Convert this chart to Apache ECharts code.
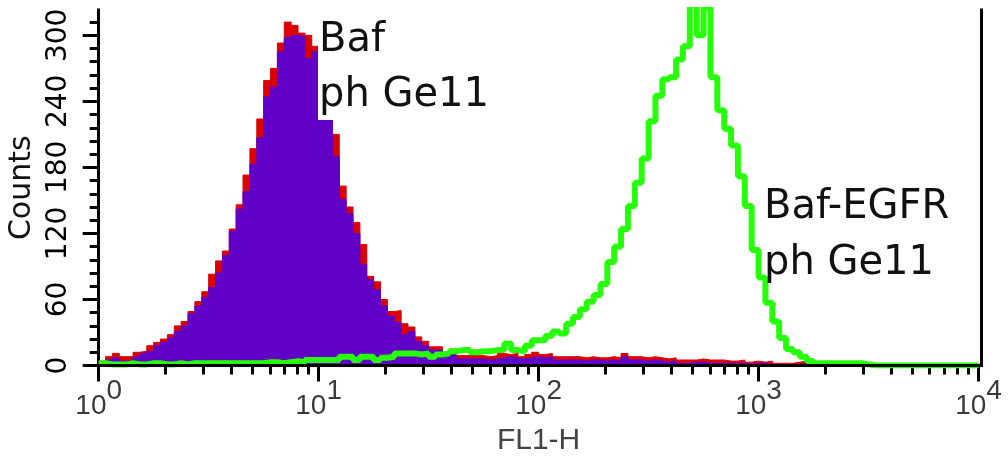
<!DOCTYPE html>
<html>
<head>
<meta charset="utf-8">
<script src="https://cdn.jsdelivr.net/npm/echarts@6/dist/echarts.min.js"></script>
<style>
html,body{margin:0;padding:0;background:#fff;}
#chart{width:1008px;height:458px;}
</style>
</head>
<body>
<div id="chart"></div>
<script>
// ---- data (counts per channel bin, 32 bins per decade, 10^0 .. 10^4) ----
const binsPerDecade = 32;
const decades = 4;

const bafRed = [
  4, 8, 11, 8, 8, 12, 13, 18, 21, 24,
  28, 36, 40, 49, 58, 67, 83, 95, 104, 124,
  146, 173, 197, 224, 259, 270, 293, 312, 309, 302,
  300, 290, 280, 235, 210, 163, 144, 130, 110, 81,
  76, 60, 49, 50, 38, 35, 26, 22, 17, 17,
  12, 15, 9, 9, 9, 9, 8, 9, 11, 10,
  11, 8, 10, 12, 10, 11, 8, 8, 8, 8,
  7, 8, 7, 7, 8, 7, 11, 8, 8, 7,
  8, 7, 6, 7, 5, 5, 5, 6, 5, 5,
  5, 4, 4, 5, 3, 4, 3, 4, 2, 2,
  2, 3, 4, 2, 0, 0, 0, 0, 0, 0,
  0, 0, 0, 0, 0, 0, 0, 0, 0, 0,
  0, 0, 0, 0, 0, 0, 0, 0
];

const bafPurple = [
  3, 5, 7, 4, 5, 8, 11, 13, 18, 21,
  25, 31, 36, 47, 54, 62, 71, 84, 100, 122,
  142, 158, 183, 207, 244, 253, 285, 298, 300, 299,
  279, 285, 265, 225, 190, 151, 138, 120, 92, 78,
  69, 54, 45, 39, 28, 31, 22, 18, 14, 14,
  9, 10, 6, 6, 6, 6, 5, 6, 7, 8,
  7, 6, 7, 8, 7, 8, 5, 5, 5, 5,
  4, 5, 5, 4, 5, 4, 8, 5, 5, 4,
  5, 4, 3, 4, 2, 2, 3, 3, 2, 2,
  2, 2, 2, 2, 1, 2, 2, 1, 0, 0,
  0, 1, 2, 0, 0, 0, 0, 0, 0, 0,
  0, 0, 0, 0, 0, 0, 0, 0, 0, 0,
  0, 0, 0, 0, 0, 0, 0, 0
];

const bafEgfrGreen = [
  2, 1, 1, 1, 2, 1, 1, 2, 2, 1,
  1, 2, 1, 2, 2, 2, 2, 2, 2, 2,
  2, 2, 2, 2, 3, 3, 2, 3, 4, 3,
  5, 5, 5, 5, 5, 8, 8, 5, 8, 8,
  5, 7, 8, 11, 11, 11, 10, 11, 8, 10,
  11, 13, 14, 14, 12, 13, 13, 14, 14, 20,
  14, 13, 18, 23, 23, 27, 31, 29, 38, 44,
  51, 58, 64, 74, 94, 108, 124, 145, 166, 188,
  222, 245, 260, 262, 278, 290, 330, 300, 325, 262,
  232, 215, 200, 172, 145, 105, 80, 57, 40, 25,
  15, 12, 8, 4, 2, 2, 2, 2, 2, 2,
  2, 1, 0, 0, 0, 0, 0, 0, 0, 0,
  0, 0, 0, 0, 0, 0, 0, 0
];

const yTickLabels = [0, 60, 120, 180, 240, 300];
const yMinorTicks = [12, 24, 36, 48, 72, 84, 96, 108, 132, 144, 156, 168, 192, 204, 216, 228, 252, 264, 276, 288, 312];
const xMinorMultipliers = [2, 3, 4, 5, 6, 7, 8, 9];
const yMax = 323;

// ---- build series data from the arrays ----
const nBins = binsPerDecade * decades;
const binEdges = [];
for (let i = 0; i <= nBins; i++) binEdges.push(Math.pow(10, i / binsPerDecade));
function toSteps(counts) {
  const out = counts.map((c, i) => [binEdges[i], c]);
  out.push([binEdges[nBins], counts[counts.length - 1]]);
  return out;
}
const xMinorTickPos = [];
for (let d = 0; d < decades; d++) {
  xMinorMultipliers.forEach(m => xMinorTickPos.push(d + Math.log10(m)));
}

const chart = echarts.init(document.getElementById('chart'), null, {renderer: 'canvas'});
const black = '#000';
const frameLine = {show: true, lineStyle: {color: black, width: 3, cap: 'square'}};
const option = {
  animation: false,
  backgroundColor: '#fff',
  grid: {left: 98.7, right: 29.5, top: 10, bottom: 92.5, containLabel: false, outerBoundsMode: 'none'},
  xAxis: [
    {
      type: 'log', logBase: 10, min: 1, max: 10000, position: 'bottom', offset: 3,
      axisLine: frameLine,
      axisTick: {show: true, length: 16, lineStyle: {color: black, width: 3}},
      minorTick: {show: false},
      splitLine: {show: false},
      axisLabel: {
        show: true, margin: 9,
        formatter: v => '{b|10}{s|' + Math.round(Math.log10(v)) + '}',
        rich: {
          b: {fontSize: 28, fontFamily: 'Liberation Sans', color: '#3a3a3a'},
          s: {fontSize: 28, fontFamily: 'Liberation Sans', color: '#3a3a3a', padding: [0, 0, 30, 0]}
        }
      },
      name: 'FL1-H', nameLocation: 'middle', nameGap: 53,
      nameTextStyle: {fontSize: 30, fontFamily: 'Liberation Sans', color: '#444'}
    },
    {
      type: 'value', min: 0, max: decades, position: 'bottom', offset: 3,
      axisLine: {show: false},
      axisTick: {show: true, customValues: xMinorTickPos, length: 9, lineStyle: {color: black, width: 3}},
      axisLabel: {show: false},
      splitLine: {show: false}
    },
    {
      type: 'value', min: 0, max: 1, position: 'top', z: 10,
      axisLine: frameLine,
      axisTick: {show: false}, axisLabel: {show: false}, splitLine: {show: false}
    }
  ],
  yAxis: [
    {
      type: 'value', min: 0, max: yMax, position: 'left', offset: 3,
      axisLine: frameLine,
      axisTick: {show: true, customValues: yTickLabels, length: 16, lineStyle: {color: black, width: 3}},
      axisLabel: {customValues: yTickLabels, rotate: 90, margin: 23, fontSize: 28, fontFamily: 'DejaVu Sans', color: black},
      splitLine: {show: false},
      name: 'Counts', nameLocation: 'middle', nameRotate: 90, nameGap: 57,
      nameTextStyle: {fontSize: 30, fontFamily: 'DejaVu Sans', color: '#111'}
    },
    {
      type: 'value', min: 0, max: yMax, position: 'left', offset: 3,
      axisLine: {show: false},
      axisTick: {show: true, customValues: yMinorTicks, length: 9, lineStyle: {color: black, width: 3}},
      axisLabel: {show: false}, splitLine: {show: false}
    },
    {
      type: 'value', min: 0, max: yMax, position: 'right', offset: 3,
      axisLine: frameLine,
      axisTick: {show: false}, axisLabel: {show: false}, splitLine: {show: false}
    }
  ],
  series: [
    {
      name: 'Baf ph Ge11 (red)', type: 'line', step: 'end', xAxisIndex: 0, yAxisIndex: 0,
      data: toSteps(bafRed), symbol: 'none', z: 2,
      lineStyle: {color: '#dc0000', width: 1},
      areaStyle: {color: '#dc0000', opacity: 1}
    },
    {
      name: 'Baf ph Ge11', type: 'line', step: 'end', xAxisIndex: 0, yAxisIndex: 0,
      data: toSteps(bafPurple), symbol: 'none', z: 3,
      lineStyle: {color: '#6100c6', width: 1},
      areaStyle: {color: '#6100c6', opacity: 1}
    },
    {
      name: 'Baf-EGFR ph Ge11', type: 'line', step: 'end', xAxisIndex: 0, yAxisIndex: 0,
      data: toSteps(bafEgfrGreen), symbol: 'none', z: 4,
      lineStyle: {color: '#27ff0a', width: 6}
    }
  ],
  graphic: {
    elements: [
      {type: 'rect', z: 50, shape: {x: 318, y: 16, width: 170, height: 104}, style: {fill: '#fff'}},
      {type: 'text', z: 51, x: 319, y: 41, style: {text: 'Baf', font: '40px "DejaVu Sans"', fill: '#111', textVerticalAlign: 'middle', verticalAlign: 'middle'}},
      {type: 'text', z: 51, x: 319, y: 96, style: {text: 'ph Ge11', font: '40px "DejaVu Sans"', fill: '#111', textVerticalAlign: 'middle', verticalAlign: 'middle'}},
      {type: 'text', z: 51, x: 764, y: 208, style: {text: 'Baf-EGFR', font: '40px "DejaVu Sans"', fill: '#111', textVerticalAlign: 'middle', verticalAlign: 'middle'}},
      {type: 'text', z: 51, x: 764, y: 264, style: {text: 'ph Ge11', font: '40px "DejaVu Sans"', fill: '#111', textVerticalAlign: 'middle', verticalAlign: 'middle'}}
    ]
  }
};
chart.setOption(option);
</script>
</body>
</html>
